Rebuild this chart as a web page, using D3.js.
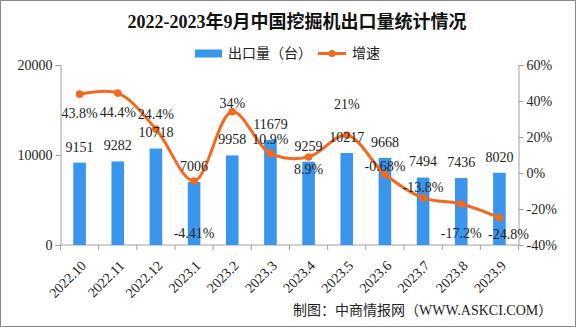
<!DOCTYPE html>
<html><head><meta charset="utf-8">
<script src="https://cdn.jsdelivr.net/npm/d3@7/dist/d3.min.js"></script>
<style>
html,body{margin:0;padding:0;background:#fff;}
svg{display:block;}
</style>
</head><body>
<svg id="c" width="576" height="327"></svg>
<script>
const categories = ["2022.10","2022.11","2022.12","2023.1","2023.2","2023.3","2023.4","2023.5","2023.6","2023.7","2023.8","2023.9"];
const exportVolume = [9151,9282,10718,7006,9958,11679,9259,10217,9668,7494,7436,8020];
const growthRate = [43.8,44.4,24.4,-4.41,34,10.9,8.9,21,-0.68,-13.8,-17.2,-24.8];
const growthLabels = ["43.8%","44.4%","24.4%","-4.41%","34%","10.9%","8.9%","21%","-0.68%","-13.8%","-17.2%","-24.8%"];
const leftTicks = [0,10000,20000];
const rightTicks = [-40,-20,0,20,40,60];
// label layout (pixel offsets of growth labels relative to their points)
const growthLabelDy = [19,19,-15,52,-9,-14,12,-31,-8,-11,29,16];
const growthLabelDx = [0,0,0,0,0,0,0,0,0,0,0,9];

(function(){
const svg = d3.select("#c");
const W = 576, H = 327;
const serif = "'Liberation Serif','Noto Sans CJK SC',serif";
const sans = "'Noto Sans CJK SC','Noto Sans',sans-serif";
const barColor = "#3a95ec", lineColor = "#f26a22", axisColor = "#a0a0a0", textColor = "#222";

svg.append("rect").attr("x",0.5).attr("y",0.5).attr("width",W-1).attr("height",H-1)
  .attr("fill","#fff").attr("stroke","#8a8a8a");

const pLeft = 60.5, pRight = 518.5, pTop = 65, pBottom = 245;
const x = d3.scaleBand().domain(categories).range([pLeft,pRight]).paddingInner(0).paddingOuter(0);
const yL = d3.scaleLinear().domain([0,20000]).range([pBottom,pTop]);
const yR = d3.scaleLinear().domain([-40,60]).range([pBottom,pTop]);

// title
svg.append("text").attr("x",297).attr("y",22).attr("dy","0.35em").attr("text-anchor","middle")
  .attr("font-family",serif).attr("font-weight","bold").attr("font-size",18).attr("fill","#111")
  .text("2022-2023年9月中国挖掘机出口量统计情况");

// legend
const lg = svg.append("g");
lg.append("rect").attr("x",195).attr("y",49.5).attr("width",27).attr("height",8).attr("fill",barColor);
lg.append("text").attr("x",228).attr("y",53.5).attr("dy","0.35em").attr("font-family",sans).attr("font-size",14).attr("fill",textColor).text("出口量（台）");
lg.append("line").attr("x1",318).attr("x2",346).attr("y1",53.5).attr("y2",53.5).attr("stroke",lineColor).attr("stroke-width",3);
lg.append("circle").attr("cx",332).attr("cy",53.5).attr("r",3.5).attr("fill",lineColor);
lg.append("text").attr("x",352).attr("y",53.5).attr("dy","0.35em").attr("font-family",sans).attr("font-size",14).attr("fill",textColor).text("增速");

// axes
const axL = svg.append("g").attr("transform",`translate(${pLeft},0)`)
  .call(d3.axisLeft(yL).tickValues(leftTicks).tickSize(5).tickPadding(3).tickFormat(d3.format("d")));
const axR = svg.append("g").attr("transform",`translate(${pRight},0)`)
  .call(d3.axisRight(yR).tickValues(rightTicks).tickSize(5).tickPadding(3).tickFormat(d=>d+"%"));
[axL,axR].forEach(g=>{
  g.selectAll("path,line").attr("stroke",axisColor);
  g.selectAll("text").attr("font-family",serif).attr("font-size",14).attr("fill",textColor);
});

// bottom axis
const axB = svg.append("g");
axB.append("line").attr("x1",pLeft).attr("x2",pRight).attr("y1",pBottom).attr("y2",pBottom).attr("stroke",axisColor);
const tickPos = categories.map(c=>x(c)).concat([x.range()[1]]);
axB.selectAll("line.t").data(tickPos).join("line").attr("class","t")
  .attr("x1",d=>d).attr("x2",d=>d).attr("y1",pBottom).attr("y2",pBottom+5).attr("stroke",axisColor);
axB.selectAll("text").data(categories).join("text")
  .attr("transform",d=>`translate(${x(d)+x.bandwidth()/2+4},${pBottom+18}) rotate(-45)`)
  .attr("text-anchor","end").attr("dy","0.35em")
  .attr("font-family",serif).attr("font-size",14).attr("fill",textColor).text(d=>d);

// bars
const bw = x.bandwidth()*0.33;
const cx = c => x(c)+x.bandwidth()/2;
svg.append("g").selectAll("rect").data(categories).join("rect")
  .attr("x",(d)=>cx(d)-bw/2).attr("width",bw)
  .attr("y",(d,i)=>yL(exportVolume[i])).attr("height",(d,i)=>pBottom-yL(exportVolume[i]))
  .attr("fill",barColor);

// line
const pts = categories.map((c,i)=>[cx(c), yR(growthRate[i])]);
svg.append("path").attr("d",d3.line().curve(d3.curveCatmullRom.alpha(0.5))(pts))
  .attr("fill","none").attr("stroke",lineColor).attr("stroke-width",3);
svg.append("g").selectAll("circle").data(pts).join("circle")
  .attr("cx",d=>d[0]).attr("cy",d=>d[1]).attr("r",3.8).attr("fill",lineColor);

// bar labels
svg.append("g").selectAll("text").data(categories).join("text")
  .attr("x",d=>cx(d)).attr("y",(d,i)=>yL(exportVolume[i])-16).attr("dy","0.35em")
  .attr("text-anchor","middle").attr("font-family",serif).attr("font-size",14).attr("fill",textColor)
  .text((d,i)=>exportVolume[i]);

// growth labels
svg.append("g").selectAll("text").data(categories).join("text")
  .attr("x",(d,i)=>cx(d)+growthLabelDx[i]).attr("y",(d,i)=>yR(growthRate[i])+growthLabelDy[i]).attr("dy","0.35em")
  .attr("text-anchor","middle").attr("font-family",serif).attr("font-size",14).attr("fill",textColor)
  .text((d,i)=>growthLabels[i]);

// source
svg.append("text").attr("x",293).attr("y",310).attr("dy","0.35em")
  .attr("font-family",serif).attr("font-size",14).attr("fill",textColor)
  .text("制图：中商情报网（WWW.ASKCI.COM）");
})();
</script>
</body></html>
